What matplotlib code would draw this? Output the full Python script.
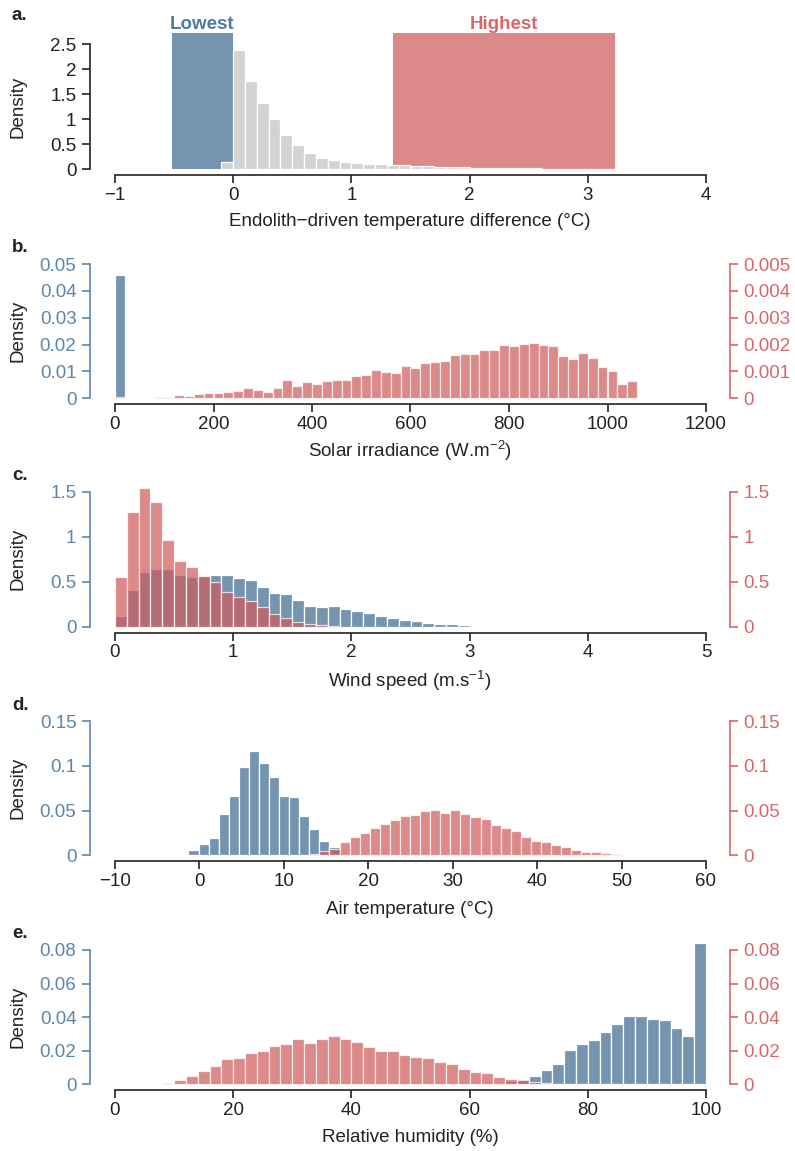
import numpy as np
import matplotlib
matplotlib.use('Agg')
import matplotlib.pyplot as plt

# ---------------- data ----------------
# a. Endolith-driven temperature difference
ed_bin_start = -0.1
ed_bin_width = 0.1
ed_density = [0.15, 2.39, 1.77, 1.33, 1.0, 0.69, 0.48, 0.33, 0.23, 0.18, 0.15, 0.12,
              0.10, 0.10, 0.09, 0.08, 0.07, 0.06, 0.05, 0.045, 0.04, 0.03, 0.025, 0.02,
              0.02, 0.015, 0.012, 0.01, 0.008, 0.006, 0.005, 0.004, 0.003, 0.002]
lowest_range = [-0.52, 0.0]
highest_range = [1.35, 3.23]
range_box_height = 2.72

# b. Solar irradiance
sol_bin_width = 20
sol_low = [0.046, 0.0004]
sol_high = [0.00006, 0.0, 0.0, 0.00002, 0.00004, 0.00006, 0.00014, 0.0001, 0.00016, 0.0002,
            0.00021, 0.00025, 0.00027, 0.0004, 0.0003, 0.00025, 0.0004, 0.00067, 0.00047, 0.0006,
            0.00052, 0.00066, 0.00068, 0.00068, 0.00082, 0.00086, 0.00104, 0.00098, 0.00095, 0.0012,
            0.00114, 0.0013, 0.00136, 0.00139, 0.0016, 0.00165, 0.00165, 0.0018, 0.0018, 0.00197,
            0.00193, 0.00204, 0.00206, 0.00197, 0.00195, 0.00158, 0.00148, 0.0017, 0.00149, 0.00116,
            0.001, 0.00055, 0.00063]

# c. Wind speed
wind_bin_width = 0.1
wind_low = [0.115, 0.407, 0.607, 0.644, 0.64, 0.574, 0.556, 0.563, 0.58, 0.574, 0.537, 0.515,
            0.444, 0.37, 0.363, 0.3, 0.233, 0.218, 0.226, 0.193, 0.18, 0.148, 0.122, 0.1,
            0.08, 0.06, 0.045, 0.03, 0.025, 0.02, 0.01]
wind_high = [0.55, 1.28, 1.545, 1.39, 0.96, 0.733, 0.66, 0.567, 0.5, 0.39, 0.333, 0.285,
             0.215, 0.137, 0.093, 0.052, 0.03, 0.015, 0.005]

# d. Air temperature
air_bin_start = -1.3
air_bin_width = 1.193
air_low = [0.0056, 0.0126, 0.019, 0.046, 0.0666, 0.0986, 0.117, 0.103, 0.088, 0.066, 0.0655,
           0.0435, 0.029, 0.016, 0.009, 0.002]
air_high_first_bin = 12
air_high = [0.002, 0.0048, 0.0074, 0.015, 0.02, 0.0245, 0.031, 0.035, 0.039, 0.0436, 0.0455,
            0.05, 0.051, 0.0477, 0.051, 0.046, 0.0429, 0.040, 0.0338, 0.031, 0.027, 0.020,
            0.0158, 0.0147, 0.011, 0.009, 0.0064, 0.004, 0.004, 0.003, 0.0018]

# e. Relative humidity
rh_bin_width = 2
rh_high_start = 8
rh_high = [0.0008, 0.0028, 0.0048, 0.0079, 0.0107, 0.0149, 0.0157, 0.0189, 0.020, 0.023, 0.0242,
           0.0268, 0.0248, 0.027, 0.0288, 0.0268, 0.0252, 0.0224, 0.020, 0.020, 0.0172, 0.016,
           0.0158, 0.013, 0.012, 0.0092, 0.0076, 0.007, 0.0044, 0.0032, 0.0024, 0.0012, 0.0006]
rh_low_start = 66
rh_low = [0.002, 0.003, 0.005, 0.0084, 0.0118, 0.0204, 0.024, 0.0264, 0.0314, 0.0358, 0.0404,
          0.0408, 0.039, 0.0382, 0.0334, 0.0286, 0.084]

# ---------------- style ----------------
plt.rcParams['font.family'] = ['Liberation Sans', 'DejaVu Sans']
plt.rcParams['mathtext.fontset'] = 'custom'
plt.rcParams['mathtext.rm'] = 'Liberation Sans'
plt.rcParams['mathtext.it'] = 'Liberation Sans:italic'
plt.rcParams['mathtext.default'] = 'regular'

BLUE = '#7494B0'
RED_BASE = '#CD5C5C'
RED_ALPHA = 0.72
GRAY = '#D3D3D3'
BLUE_AX = '#5B86AD'
RED_AX = '#D8676A'
BLACK = '#222222'
FS = 13.5

W, H = 795, 1151
fig = plt.figure(figsize=(W / 100, H / 100), dpi=100)


def add_axes(y_base, y_top, x0=115, x1=706):
    return fig.add_axes([x0 / W, 1 - y_base / H, (x1 - x0) / W, (y_base - y_top) / H])


def fmt(v):
    return ('%g' % v).replace('-', '\u2212')


def style_main(ax, xlim, xticks, yticks, ycolor):
    ax.set_xlim(*xlim)
    ax.set_ylim(0, yticks[-1])
    ax.patch.set_visible(False)
    for s in ['top', 'right']:
        ax.spines[s].set_visible(False)
    ax.spines['left'].set_position(('outward', 18))
    ax.spines['left'].set_bounds(0, yticks[-1])
    ax.spines['left'].set_color(ycolor)
    ax.spines['left'].set_linewidth(1.2)
    ax.spines['bottom'].set_position(('outward', 4.3))
    ax.spines['bottom'].set_bounds(xlim[0], xlim[1])
    ax.spines['bottom'].set_color(BLACK)
    ax.spines['bottom'].set_linewidth(1.2)
    ax.set_xticks(xticks)
    ax.set_xticklabels([fmt(v) for v in xticks])
    ax.set_yticks(yticks)
    ax.set_yticklabels([fmt(v) for v in yticks])
    ax.tick_params(axis='x', length=5.5, width=1.2, color=BLACK, labelcolor=BLACK,
                   labelsize=FS, pad=3)
    ax.tick_params(axis='y', length=5.8, width=1.2, color=ycolor, labelcolor=ycolor,
                   labelsize=FS, pad=4)


def style_right(ax2, yticks):
    ax2.set_ylim(0, yticks[-1])
    for s in ['top', 'left', 'bottom']:
        ax2.spines[s].set_visible(False)
    ax2.spines['right'].set_position(('outward', 17.3))
    ax2.spines['right'].set_bounds(0, yticks[-1])
    ax2.spines['right'].set_color(RED_AX)
    ax2.spines['right'].set_linewidth(1.2)
    ax2.set_yticks(yticks)
    ax2.set_yticklabels([fmt(v) for v in yticks])
    ax2.tick_params(axis='y', length=5.8, width=1.2, color=RED_AX, labelcolor=RED_AX,
                    labelsize=FS, pad=4)


def bars(ax, start, width, values, color, alpha=1.0):
    x = start + width * np.arange(len(values))
    ax.bar(x, values, width=width, align='edge', color=color, alpha=alpha,
           edgecolor='white', linewidth=0.9, clip_on=False)


def labels(y_panel, y_center, y_xlabel, letter, xlabel):
    fig.text(12 / W, 1 - y_panel / H, letter, fontsize=FS, fontweight='bold',
             ha='left', va='center', color=BLACK)
    fig.text(18 / W, 1 - y_center / H, 'Density', fontsize=FS, rotation=90,
             ha='center', va='center', color=BLACK)
    fig.text(410 / W, 1 - y_xlabel / H, xlabel, fontsize=FS, ha='center', va='center',
             color=BLACK)


# ---------------- panel a ----------------
ax = add_axes(169, 44.3)
ax.bar(lowest_range[0], range_box_height, width=lowest_range[1] - lowest_range[0],
       align='edge', color=BLUE, edgecolor='none', clip_on=False)
ax.bar(highest_range[0], range_box_height, width=highest_range[1] - highest_range[0],
       align='edge', color=RED_BASE, alpha=RED_ALPHA, edgecolor='none', clip_on=False)
bars(ax, ed_bin_start, ed_bin_width, ed_density, GRAY)
style_main(ax, (-1, 4), [-1, 0, 1, 2, 3, 4], [0, 0.5, 1, 1.5, 2, 2.5], BLACK)
ax.text(np.mean(lowest_range), range_box_height, 'Lowest', color='#4F7AA2', fontsize=FS,
        fontweight='bold', ha='center', va='bottom')
ax.text(np.mean(highest_range), range_box_height, 'Highest', color='#D9676A', fontsize=FS,
        fontweight='bold', ha='center', va='bottom')
labels(15, 107, 222, 'a.', 'Endolith\u2212driven temperature difference (\u00b0C)')

# ---------------- panel b ----------------
ax = add_axes(398.3, 264)
bars(ax, 0, sol_bin_width, sol_low, BLUE)
style_main(ax, (0, 1200), [0, 200, 400, 600, 800, 1000, 1200],
           [0, 0.01, 0.02, 0.03, 0.04, 0.05], BLUE_AX)
ax2 = ax.twinx()
bars(ax2, 0, sol_bin_width, sol_high, RED_BASE, RED_ALPHA)
style_right(ax2, [0, 0.001, 0.002, 0.003, 0.004, 0.005])
labels(247, 331, 451, 'b.', 'Solar irradiance (W.m$^{\u22122}$)')

# ---------------- panel c ----------------
ax = add_axes(626.7, 491.7)
bars(ax, 0, wind_bin_width, wind_low, BLUE)
style_main(ax, (0, 5), [0, 1, 2, 3, 4, 5], [0, 0.5, 1, 1.5], BLUE_AX)
ax2 = ax.twinx()
bars(ax2, 0, wind_bin_width, wind_high, RED_BASE, RED_ALPHA)
style_right(ax2, [0, 0.5, 1, 1.5])
labels(476, 559, 681, 'c.', 'Wind speed (m.s$^{\u22121}$)')

# ---------------- panel d ----------------
ax = add_axes(855.3, 721)
bars(ax, air_bin_start, air_bin_width, air_low, BLUE)
style_main(ax, (-10, 60), [-10, 0, 10, 20, 30, 40, 50, 60], [0, 0.05, 0.1, 0.15], BLUE_AX)
ax2 = ax.twinx()
bars(ax2, air_bin_start + air_high_first_bin * air_bin_width, air_bin_width, air_high,
     RED_BASE, RED_ALPHA)
style_right(ax2, [0, 0.05, 0.1, 0.15])
labels(705, 788, 910, 'd.', 'Air temperature (\u00b0C)')

# ---------------- panel e ----------------
ax = add_axes(1084.3, 950)
bars(ax, rh_low_start, rh_bin_width, rh_low, BLUE)
style_main(ax, (0, 100), [0, 20, 40, 60, 80, 100], [0, 0.02, 0.04, 0.06, 0.08], BLUE_AX)
ax2 = ax.twinx()
bars(ax2, rh_high_start, rh_bin_width, rh_high, RED_BASE, RED_ALPHA)
style_right(ax2, [0, 0.02, 0.04, 0.06, 0.08])
labels(933, 1017, 1138, 'e.', 'Relative humidity (%)')

fig.savefig('out.png', dpi=100, facecolor='white')
